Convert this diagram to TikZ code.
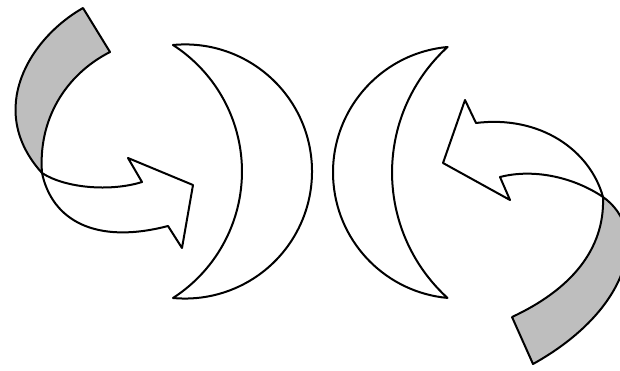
\documentclass[tikz,border=0pt]{standalone}
\definecolor{ribbongray}{RGB}{190,190,190}
\tikzset{
  shapeline/.style={draw=black, line width=2pt, line join=round},
  whitepart/.style={shapeline, fill=white},
  graypart/.style={shapeline, fill=ribbongray}
}
\begin{document}
\begin{tikzpicture}[x=1pt,y=-1pt]
\useasboundingbox (0,0) rectangle (620,370);
\clip (0,0) rectangle (620,370);
% left curved arrow
\path[whitepart] (42,173) .. controls (52,220) and (95,245) .. (168,226) -- (182,248) -- (193,185) -- (128,158) -- (142,182) .. controls (110,192) and (65,188) .. (42,173) -- cycle;
\path[graypart] (83,8) -- (110,52) .. controls (65,75) and (38,120) .. (42,173) .. controls (-15,110) and (30,38) .. (83,8) -- cycle;
% left crescent
\path[whitepart] (173,45) arc[start angle=-95.4, end angle=95.4, radius=127.07] arc[start angle=57.2, end angle=-57.2, radius=150.5] -- cycle;
% right crescent
\path[whitepart] (447.5,47) arc[start angle=264.76, end angle=95.24, radius=126] arc[start angle=132.3, end angle=227.7, radius=169.6] -- cycle;
% right curved arrow
\path[whitepart] (603,197) .. controls (590,150) and (540,115) .. (476,123) -- (465,100) -- (443,163) -- (510,200) -- (500,177) .. controls (535,168) and (575,178) .. (603,197) -- cycle;
\path[graypart] (603,197) .. controls (650,230) and (630,310) .. (533,364) -- (512,317) .. controls (570,290) and (605,250) .. (603,197) -- cycle;
\end{tikzpicture}
\end{document}
